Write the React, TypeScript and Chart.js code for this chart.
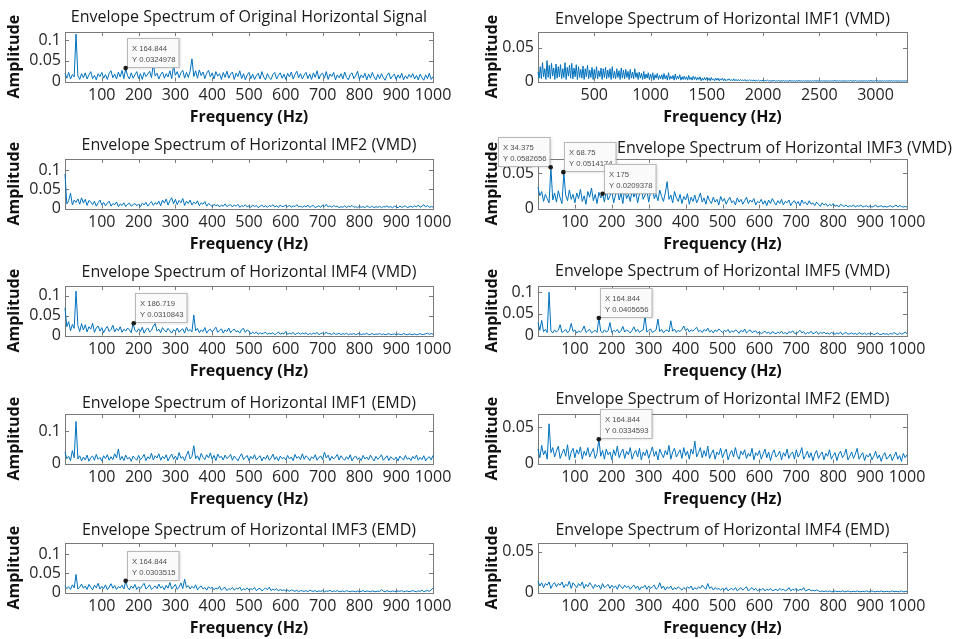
import React, { useEffect, useRef } from "react";
import { Chart, registerables } from "chart.js";

Chart.register(...registerables);

// ---------- axes / ticks ----------
const STEP_HZ = 5; // frequency resolution used for the 0-1000 Hz spectra
const STEP_HZ_WIDE = 10; // resolution used for the 0-3280 Hz spectrum
const X_TICKS_1K = [100, 200, 300, 400, 500, 600, 700, 800, 900, 1000];
const X_TICKS_WIDE = [500, 1000, 1500, 2000, 2500, 3000];
const Y_TICKS_A = [0, 0.05, 0.1];
const Y_TICKS_B = [0, 0.05];
const Y_TICKS_C = [0, 0.1];

const TITLES = [
  "Envelope Spectrum of Original Horizontal Signal",
  "Envelope Spectrum of Horizontal IMF1 (VMD)",
  "Envelope Spectrum of Horizontal IMF2 (VMD)",
  "Envelope Spectrum of Horizontal IMF3 (VMD)",
  "Envelope Spectrum of Horizontal IMF4 (VMD)",
  "Envelope Spectrum of Horizontal IMF5 (VMD)",
  "Envelope Spectrum of Horizontal IMF1 (EMD)",
  "Envelope Spectrum of Horizontal IMF2 (EMD)",
  "Envelope Spectrum of Horizontal IMF3 (EMD)",
  "Envelope Spectrum of Horizontal IMF4 (EMD)",
];

// ---------- amplitudes (units of 0.001) ----------
const ORIGINAL = [
  20, 8, 22, 6, 17, 11, 115, 14, 5, 19,
  9, 21, 6, 16, 24, 7, 15, 4, 19, 12,
  22, 8, 17, 5, 20, 26, 9, 18, 6, 23,
  11, 27, 7, 32, 14, 6, 21, 8, 16, 24,
  7, 19, 5, 22, 12, 18, 25, 9, 42, 13,
  20, 6, 17, 23, 8, 19, 11, 26, 7, 38,
  15, 24, 9, 21, 27, 8, 22, 10, 25, 55,
  12, 26, 8, 28, 14, 23, 7, 20, 27, 11,
  21, 6, 24, 13, 19, 5, 22, 10, 25, 8,
  18, 23, 5, 20, 12, 26, 7, 19, 4, 16,
  22, 7, 18, 5, 14, 20, 6, 24, 11, 4,
  19, 9, 5, 17, 22, 6, 15, 21, 8, 18,
  5, 20, 11, 23, 6, 17, 25, 9, 19, 6,
  16, 22, 7, 18, 5, 21, 10, 26, 6, 17,
  20, 8, 24, 5, 18, 12, 22, 4, 16, 9,
  19, 6, 23, 10, 4, 17, 21, 7, 14, 25,
  5, 16, 9, 20, 4, 18, 8, 22, 11, 4,
  17, 7, 19, 9, 3, 15, 21, 6, 13, 18,
  5, 16, 8, 20, 4, 14, 7, 17, 10, 19,
  6, 15, 4, 18, 9, 3, 16, 7, 20, 5,
  12,
];

const IMF1_VMD = [
  14, 5, 22, 4, 28, 7, 19, 3, 31, 6,
  24, 4, 27, 8, 20, 3, 26, 5, 22, 7,
  25, 4, 19, 6, 28, 3, 21, 8, 24, 5,
  27, 4, 20, 7, 25, 3, 22, 6, 18, 5,
  23, 3, 19, 7, 24, 4, 17, 6, 21, 3,
  18, 5, 22, 4, 16, 7, 20, 3, 19, 6,
  21, 4, 17, 6, 19, 3, 22, 5, 15, 4,
  19, 6, 16, 3, 20, 5, 17, 4, 18, 6,
  15, 3, 18, 5, 14, 4, 19, 6, 13, 3,
  14, 5, 12, 3, 15, 4, 11, 5, 13, 3,
  11, 4, 13, 2, 10, 5, 12, 3, 9, 4,
  10, 3, 12, 4, 9, 2, 13, 3, 8, 4,
  9, 2, 11, 3, 8, 4, 10, 2, 7, 3,
  8, 3, 7, 2, 9, 3, 6, 2, 8, 3,
  7, 2, 6, 3, 7, 1, 5, 2, 6, 2,
  6, 2, 5, 1, 6, 2, 4, 1, 5, 2,
  5, 1, 4, 2, 5, 1, 4, 1, 3, 2,
  4, 1, 3, 1, 4, 1, 3, 1, 3, 1,
  3, 1, 2.5, 1, 3, 0.5, 2, 1, 2.5, 1,
  2, 1, 2.5, 0.5, 2, 1, 2, 0.5, 1.5, 1,
  2, 0.5, 1.5, 1, 2, 0.5, 1.5, 0.5, 1, 1,
  1.5, 0.5, 1, 0.5, 1.5, 0.5, 1, 0.5, 1.5, 0.5,
  1, 0.5, 1, 0.5, 1.5, 0.5, 1, 0.5, 1, 0.5,
  1, 0.5, 1.5, 0.5, 1, 0.5, 1, 0.5, 1, 0.5,
  1, 0.5, 1, 0.5, 1, 0.5, 1.5, 0.5, 1, 0.5,
  1.5, 0.5, 1, 0.5, 1, 0.5, 1, 0.5, 1, 0.5,
  1, 0.5, 1, 0.5, 1.5, 0.5, 1, 0.5, 1, 0.5,
  1, 0.5, 1, 0.5, 1, 0.5, 1, 0.5, 1.5, 0.5,
  1, 0.5, 1.5, 0.5, 1, 0.5, 1, 0.5, 1, 0.5,
  1, 0.5, 1, 0.5, 1, 0.5, 1.5, 0.5, 1, 0.5,
  1.5, 0.5, 1, 0.5, 1, 0.5, 1, 0.5, 1, 0.5,
  1, 0.5, 1, 0.5, 1.5, 0.5, 1, 0.5, 1, 0.5,
  1, 0.5, 1, 0.5, 1, 0.5, 1, 0.5, 1,
];

const IMF2_VMD = [
  90, 12, 20, 40, 9, 22, 16, 25, 11, 28,
  14, 24, 8, 21, 17, 10, 19, 6, 15, 22,
  9, 16, 7, 14, 19, 6, 13, 10, 17, 5,
  12, 8, 15, 5, 11, 14, 6, 10, 13, 7,
  12, 5, 14, 9, 16, 6, 13, 18, 8, 15,
  11, 19, 7, 22, 14, 25, 9, 20, 28, 12,
  24, 10, 21, 15, 26, 8, 19, 13, 22, 9,
  17, 12, 20, 7, 15, 11, 18, 6, 13, 9,
  5, 11, 7, 10, 4, 9, 6, 12, 5, 8,
  10, 4, 9, 6, 11, 3, 8, 5, 10, 4,
  7, 3, 9, 5, 8, 2, 6, 9, 4, 7,
  3, 8, 5, 10, 4, 7, 3, 9, 5, 6,
  8, 4, 9, 3, 7, 5, 10, 4, 6, 3,
  7, 4, 9, 3, 6, 8, 2, 5, 7, 3,
  9, 5, 11, 4, 7, 3, 8, 5, 6, 2,
  5, 3, 7, 2, 6, 4, 8, 3, 5, 2,
  6, 3, 5, 2, 7, 4, 3, 6, 2, 5,
  3, 6, 2, 5, 4, 7, 3, 5, 2, 6,
  4, 2, 6, 3, 5, 7, 2, 4, 6, 3,
  7, 4, 9, 3, 6, 10, 4, 8, 3, 5,
  4,
];

const IMF3_VMD = [
  30, 18, 24, 10, 20, 14, 8, 58, 12, 22,
  9, 25, 15, 7, 51, 19, 11, 26, 13, 20,
  8, 22, 14, 27, 10, 18, 6, 24, 16, 29,
  11, 20, 7, 23, 15, 21, 9, 26, 12, 18,
  25, 8, 19, 28, 12, 22, 7, 30, 14, 20,
  10, 26, 16, 24, 8, 21, 29, 13, 19, 27,
  9, 23, 31, 14, 20, 11, 26, 17, 10, 22,
  38, 13, 19, 8, 24, 15, 10, 20, 7, 17,
  12, 21, 6, 16, 10, 19, 8, 14, 22, 9,
  15, 6, 18, 11, 7, 16, 9, 13, 5, 17,
  10, 14, 6, 12, 16, 8, 11, 5, 15, 9,
  13, 6, 11, 16, 7, 12, 9, 14, 5, 10,
  8, 13, 6, 11, 4, 12, 7, 14, 9, 5,
  11, 7, 13, 5, 10, 8, 12, 4, 9, 11,
  6, 10, 4, 12, 7, 9, 5, 11, 6, 8,
  4, 9, 6, 3, 8, 5, 7, 3, 6, 4,
  7, 3, 5, 2, 6, 4, 3, 5, 2, 4,
  3, 5, 2, 4, 3, 5, 2, 3, 4, 2,
  4, 2, 3, 5, 2, 3, 4, 2, 3, 2,
  3, 4, 2, 3, 5, 2, 4, 3, 2, 3,
  2,
];

const IMF4_VMD = [
  70, 22, 35, 12, 28, 18, 112, 25, 10, 30,
  14, 27, 9, 22, 16, 31, 8, 19, 24, 11,
  20, 7, 17, 23, 10, 15, 26, 9, 18, 12,
  22, 8, 16, 11, 19, 14, 7, 31, 13, 9,
  17, 10, 21, 6, 15, 19, 9, 13, 24, 30,
  11, 16, 7, 20, 13, 9, 18, 12, 6, 15,
  10, 19, 8, 14, 17, 6, 21, 11, 15, 9,
  52, 12, 18, 7, 14, 10, 20, 6, 13, 16,
  9, 15, 21, 8, 12, 17, 6, 14, 10, 19,
  7, 13, 16, 9, 12, 6, 15, 18, 8, 14,
  11, 4, 8, 5, 9, 3, 7, 4, 6, 8,
  3, 6, 4, 7, 2, 5, 9, 3, 6, 4,
  10, 3, 6, 4, 8, 2, 5, 7, 3, 6,
  4, 7, 2, 5, 3, 6, 4, 8, 2, 5,
  6, 3, 9, 4, 5, 2, 7, 3, 4, 6,
  2, 5, 3, 6, 2, 4, 3, 5, 2, 4,
  5, 2, 4, 3, 6, 2, 3, 5, 2, 4,
  3, 5, 2, 4, 2, 3, 5, 2, 3, 4,
  2, 4, 3, 2, 5, 3, 2, 4, 3, 2,
  4, 2, 3, 5, 2, 3, 4, 6, 3, 5,
  3,
];

const IMF5_VMD = [
  30, 12, 35, 9, 14, 7, 100, 11, 6, 13,
  8, 12, 25, 7, 10, 14, 6, 11, 28, 9,
  13, 6, 10, 8, 12, 22, 7, 11, 14, 6,
  9, 12, 7, 41, 10, 6, 13, 8, 11, 30,
  7, 12, 9, 14, 6, 11, 21, 8, 13, 10,
  6, 12, 20, 9, 14, 7, 11, 13, 45, 8,
  12, 15, 7, 10, 13, 38, 9, 14, 6, 11,
  13, 8, 34, 10, 15, 7, 12, 9, 14, 22,
  11, 16, 8, 13, 10, 15, 19, 9, 12, 7,
  14, 10, 17, 8, 12, 6, 13, 9, 15, 11,
  7, 12, 9, 14, 6, 11, 8, 13, 10, 5,
  12, 8, 15, 6, 10, 13, 7, 9, 11, 5,
  9, 4, 7, 10, 5, 8, 3, 9, 6, 4,
  8, 5, 10, 4, 7, 3, 9, 6, 11, 5,
  4, 8, 12, 6, 9, 3, 7, 5, 10, 4,
  6, 9, 3, 7, 5, 8, 4, 6, 3, 7,
  5, 3, 6, 4, 8, 2, 5, 7, 3, 4,
  6, 3, 5, 2, 7, 4, 3, 6, 2, 5,
  3, 5, 2, 4, 6, 3, 2, 5, 3, 4,
  2, 5, 3, 7, 4, 2, 6, 3, 5, 8,
  4,
];

const IMF1_EMD = [
  35, 15, 22, 9, 40, 18, 130, 14, 24, 8,
  20, 11, 26, 7, 18, 23, 10, 28, 13, 19,
  8, 24, 15, 27, 10, 21, 12, 30, 17, 45,
  11, 22, 9, 26, 14, 19, 7, 23, 16, 10,
  25, 12, 18, 28, 9, 21, 14, 32, 11, 24,
  17, 30, 10, 22, 15, 27, 8, 20, 29, 13,
  23, 11, 34, 16, 21, 9, 26, 38, 14, 22,
  55, 15, 24, 10, 31, 19, 12, 27, 17, 33,
  13, 25, 9, 29, 18, 22, 11, 26, 15, 20,
  28, 10, 23, 16, 8, 21, 30, 12, 19, 25,
  9, 22, 14, 27, 11, 18, 24, 8, 20, 13,
  26, 10, 17, 29, 12, 21, 8, 23, 15, 19,
  11, 25, 14, 20, 9, 28, 16, 22, 12, 30,
  13, 24, 18, 9, 21, 15, 27, 10, 19, 23,
  12, 35, 17, 26, 9, 22, 14, 20, 28, 11,
  24, 16, 10, 21, 13, 27, 8, 19, 23, 12,
  18, 9, 25, 14, 20, 11, 26, 16, 8, 22,
  13, 19, 27, 10, 17, 24, 9, 21, 15, 12,
  20, 8, 23, 16, 11, 25, 13, 18, 9, 22,
  14, 26, 10, 19, 12, 24, 8, 17, 21, 11,
  25,
];

const IMF2_EMD = [
  20, 8, 25, 12, 18, 6, 55, 15, 22, 9,
  17, 24, 7, 14, 20, 10, 26, 5, 16, 21,
  8, 19, 13, 23, 6, 17, 11, 22, 9, 15,
  21, 7, 14, 34, 10, 18, 6, 20, 12, 16,
  5, 19, 11, 24, 8, 15, 20, 7, 17, 12,
  22, 6, 14, 18, 9, 21, 5, 16, 11, 19,
  7, 15, 23, 10, 17, 5, 20, 13, 8, 18,
  12, 25, 6, 16, 21, 9, 14, 19, 7, 22,
  11, 17, 6, 20, 13, 31, 9, 15, 22, 8,
  18, 10, 24, 7, 14, 19, 6, 16, 12, 21,
  8, 15, 20, 5, 13, 18, 9, 22, 11, 6,
  17, 12, 19, 7, 14, 10, 21, 5, 15, 11,
  18, 6, 13, 20, 8, 16, 4, 14, 19, 9,
  12, 17, 5, 15, 10, 20, 7, 13, 16, 6,
  19, 9, 14, 22, 6, 11, 17, 8, 15, 4,
  13, 18, 7, 12, 16, 5, 14, 10, 19, 6,
  11, 15, 4, 13, 17, 8, 12, 20, 5, 10,
  16, 7, 13, 21, 6, 11, 15, 4, 12, 9,
  14, 5, 10, 17, 7, 12, 3, 11, 15, 6,
  9, 13, 4, 10, 16, 6, 11, 3, 14, 8,
  12,
];

const IMF3_EMD = [
  18, 10, 15, 8, 20, 12, 47, 9, 14, 22,
  11, 17, 8, 21, 13, 7, 19, 12, 24, 9,
  16, 10, 20, 7, 14, 23, 11, 18, 8, 15,
  12, 19, 9, 30, 13, 7, 17, 11, 21, 8,
  15, 10, 18, 24, 9, 14, 20, 8, 13, 17,
  10, 22, 12, 16, 7, 19, 11, 26, 9, 15,
  21, 8, 14, 25, 10, 35, 13, 18, 9, 16,
  11, 20, 7, 14, 17, 9, 13, 6, 15, 10,
  14, 7, 12, 9, 16, 6, 11, 13, 5, 10,
  8, 13, 6, 11, 9, 14, 5, 10, 7, 12,
  6, 10, 8, 13, 5, 9, 11, 4, 8, 12,
  7, 14, 5, 9, 6, 10, 4, 8, 5, 7,
  4, 6, 3, 7, 5, 3, 6, 2, 5, 4,
  3, 5, 2, 6, 4, 3, 5, 2, 4, 3,
  5, 2, 4, 3, 6, 2, 4, 3, 5, 2,
  3, 4, 2, 5, 3, 2, 4, 3, 2, 4,
  2, 3, 5, 2, 4, 3, 2, 4, 3, 2,
  4, 2, 8, 3, 2, 5, 3, 2, 4, 3,
  2, 4, 3, 5, 2, 3, 4, 2, 3, 5,
  3, 2, 4, 3, 6, 2, 4, 5, 3, 7,
  12,
];

const IMF4_EMD = [
  14, 8, 12, 6, 11, 9, 13, 5, 10, 12,
  7, 11, 9, 13, 6, 10, 8, 14, 5, 12,
  9, 6, 11, 8, 13, 5, 10, 7, 12, 9,
  5, 10, 7, 9, 4, 11, 6, 8, 10, 5,
  9, 6, 8, 4, 10, 7, 5, 9, 6, 8,
  4, 7, 9, 5, 8, 3, 7, 6, 9, 4,
  8, 5, 7, 9, 4, 6, 12, 5, 8, 3,
  7, 5, 8, 3, 6, 4, 7, 5, 3, 6,
  4, 7, 5, 8, 3, 6, 4, 7, 5, 9,
  6, 4, 11, 5, 7, 3, 6, 4, 5, 3,
  5, 3, 6, 2, 4, 5, 3, 6, 2, 4,
  6, 3, 5, 7, 2, 4, 6, 3, 5, 2,
  4, 3, 5, 2, 4, 3, 5, 2, 3, 4,
  2, 5, 3, 4, 2, 3, 6, 2, 4, 3,
  5, 2, 4, 3, 6, 2, 3, 4, 2, 3,
  2, 3, 2, 1, 2, 1, 2, 1, 2, 1,
  1, 2, 1, 1.5, 1, 2, 1, 1, 2, 1,
  1, 1.5, 1, 2, 1, 1, 1.5, 1, 2, 1,
  1, 2, 1, 1, 1.5, 1, 2, 1, 1, 1.5,
  1, 1, 2, 1, 1.5, 1, 1, 2, 1, 1,
  1.5,
];

// ---------- data tips ----------
const TIPS_ORIGINAL = [{ x: 164.844, y: 0.0324978, side: 1 }];
const TIPS_IMF3_VMD = [
  { x: 34.375, y: 0.0582656, side: -1 },
  { x: 68.75, y: 0.0514174, side: 1 },
  { x: 175, y: 0.0209378, side: 1 },
];
const TIPS_IMF4_VMD = [{ x: 186.719, y: 0.0310843, side: 1 }];
const TIPS_IMF5_VMD = [{ x: 164.844, y: 0.0405656, side: 1 }];
const TIPS_IMF2_EMD = [{ x: 164.844, y: 0.0334593, side: 1 }];
const TIPS_IMF3_EMD = [{ x: 164.844, y: 0.0303515, side: 1 }];

// ---------- panel table ----------
const ROW_TOPS = [0, 127, 254, 382, 511];
const PANELS = [
  { row: 0, col: 0, title: TITLES[0], values: ORIGINAL, step: STEP_HZ, xMax: 1000, xTicks: X_TICKS_1K, yMax: 0.12, yTicks: Y_TICKS_A, tips: TIPS_ORIGINAL, titleGap: 15, titleDx: 0 },
  { row: 0, col: 1, title: TITLES[1], values: IMF1_VMD, step: STEP_HZ_WIDE, xMax: 3280, xTicks: X_TICKS_WIDE, yMax: 0.0735, yTicks: Y_TICKS_B, tips: [], titleGap: 13, titleDx: 0 },
  { row: 1, col: 0, title: TITLES[2], values: IMF2_VMD, step: STEP_HZ, xMax: 1000, xTicks: X_TICKS_1K, yMax: 0.129, yTicks: Y_TICKS_A, tips: [], titleGap: 14, titleDx: 0 },
  { row: 1, col: 1, title: TITLES[3], values: IMF3_VMD, step: STEP_HZ, xMax: 1000, xTicks: X_TICKS_1K, yMax: 0.07, yTicks: Y_TICKS_B, tips: TIPS_IMF3_VMD, titleGap: 11, titleDx: 62 },
  { row: 2, col: 0, title: TITLES[4], values: IMF4_VMD, step: STEP_HZ, xMax: 1000, xTicks: X_TICKS_1K, yMax: 0.125, yTicks: Y_TICKS_A, tips: TIPS_IMF4_VMD, titleGap: 14, titleDx: 0 },
  { row: 2, col: 1, title: TITLES[5], values: IMF5_VMD, step: STEP_HZ, xMax: 1000, xTicks: X_TICKS_1K, yMax: 0.1145, yTicks: Y_TICKS_A, tips: TIPS_IMF5_VMD, titleGap: 15, titleDx: 0 },
  { row: 3, col: 0, title: TITLES[6], values: IMF1_EMD, step: STEP_HZ, xMax: 1000, xTicks: X_TICKS_1K, yMax: 0.153, yTicks: Y_TICKS_C, tips: [], titleGap: 11, titleDx: 0 },
  { row: 3, col: 1, title: TITLES[7], values: IMF2_EMD, step: STEP_HZ, xMax: 1000, xTicks: X_TICKS_1K, yMax: 0.0685, yTicks: Y_TICKS_B, tips: TIPS_IMF2_EMD, titleGap: 15, titleDx: 0 },
  { row: 4, col: 0, title: TITLES[8], values: IMF3_EMD, step: STEP_HZ, xMax: 1000, xTicks: X_TICKS_1K, yMax: 0.129, yTicks: Y_TICKS_A, tips: TIPS_IMF3_EMD, titleGap: 13, titleDx: 0 },
  { row: 4, col: 1, title: TITLES[9], values: IMF4_EMD, step: STEP_HZ, xMax: 1000, xTicks: X_TICKS_1K, yMax: 0.061, yTicks: Y_TICKS_B, tips: [], titleGap: 13, titleDx: 0 },
];

const COLS = [
  { left: 0, width: 480, yAxisW: 65, rightPad: 47, yTitlePad: 4.5 },
  { left: 480, width: 479, yAxisW: 58, rightPad: 52, yTitlePad: 3 },
];
const CANVAS_H = 128;
const LINE_COLOR = "#0072BD";
const AXIS_COLOR = "#7a7a7a";
const FONT = '"Open Sans", sans-serif';

const decorPlugin = {
  id: "panelDecor",
  beforeDatasetsDraw(chart: any, _args: any, opts: any) {
    const { ctx, chartArea: a, scales } = chart;
    const xs = scales.x;
    const ys = scales.y;
    ctx.save();
    ctx.strokeStyle = AXIS_COLOR;
    ctx.lineWidth = 1;
    ctx.beginPath();
    for (const v of opts.xTicks) {
      const px = Math.round(xs.getPixelForValue(v)) + 0.5;
      ctx.moveTo(px, a.bottom);
      ctx.lineTo(px, a.bottom - 4);
      ctx.moveTo(px, a.top);
      ctx.lineTo(px, a.top + 4);
    }
    for (const v of opts.yTicks) {
      const py = Math.round(ys.getPixelForValue(v)) + 0.5;
      ctx.moveTo(a.left, py);
      ctx.lineTo(a.left + 4, py);
      ctx.moveTo(a.right, py);
      ctx.lineTo(a.right - 4, py);
    }
    ctx.stroke();
    ctx.strokeRect(
      Math.round(a.left) + 0.5,
      Math.round(a.top) + 0.5,
      Math.round(a.right - a.left),
      Math.round(a.bottom - a.top)
    );
    ctx.restore();
  },
  afterDraw(chart: any, _args: any, opts: any) {
    const { ctx, chartArea: a, scales } = chart;
    const xs = scales.x;
    const ys = scales.y;
    ctx.save();
    // title
    ctx.fillStyle = "#1a1a1a";
    ctx.font = `16px ${FONT}`;
    ctx.textAlign = "center";
    ctx.textBaseline = "middle";
    ctx.fillText(opts.title, (a.left + a.right) / 2 + opts.titleDx, a.top - opts.titleGap);
    // data tips
    ctx.font = '7.7px "Liberation Sans", sans-serif';
    for (const t of opts.tips) {
      const px = xs.getPixelForValue(t.x);
      const py = ys.getPixelForValue(t.y);
      const l1 = "X " + t.x;
      const l2 = "Y " + t.y;
      const w = Math.max(ctx.measureText(l1).width, ctx.measureText(l2).width) + 8;
      const h = 29;
      const bx = Math.round(t.side > 0 ? px + 1 : px - 1 - w);
      const by = Math.round(py - 1 - h);
      ctx.shadowColor = "rgba(0,0,0,0.18)";
      ctx.shadowBlur = 3;
      ctx.shadowOffsetX = 1;
      ctx.shadowOffsetY = 1;
      ctx.fillStyle = "#fafafa";
      ctx.fillRect(bx, by, w, h);
      ctx.shadowColor = "transparent";
      ctx.shadowBlur = 0;
      ctx.shadowOffsetX = 0;
      ctx.shadowOffsetY = 0;
      ctx.strokeStyle = "#b8b8b8";
      ctx.strokeRect(bx + 0.5, by + 0.5, w, h);
      ctx.fillStyle = "#505050";
      ctx.textAlign = "left";
      ctx.textBaseline = "middle";
      ctx.fillText(l1, bx + 5, by + 10.5);
      ctx.fillText(l2, bx + 5, by + 21.5);
      ctx.fillStyle = "#1a1a1a";
      ctx.beginPath();
      ctx.arc(px, py, 2.3, 0, Math.PI * 2);
      ctx.fill();
    }
    ctx.restore();
  },
};

function Panel({ p }: { p: any }) {
  const ref = useRef<HTMLCanvasElement | null>(null);
  const col = COLS[p.col];
  useEffect(() => {
    if (!ref.current) return;
    const data = p.values.map((v: number, i: number) => ({ x: i * p.step, y: v / 1000 }));
    const chart = new Chart(ref.current, {
      type: "line",
      data: {
        datasets: [
          {
            data,
            borderColor: LINE_COLOR,
            borderWidth: 1,
            pointRadius: 0,
            tension: 0,
            fill: false,
            clip: 2,
          },
        ],
      },
      options: {
        animation: false,
        responsive: false,
        devicePixelRatio: 1,
        layout: { padding: { top: 32, right: col.rightPad, left: 0, bottom: 0 } },
        plugins: {
          legend: { display: false },
          tooltip: { enabled: false },
          title: { display: false },
          panelDecor: {
            title: p.title,
            titleGap: p.titleGap,
            titleDx: p.titleDx,
            xTicks: p.xTicks,
            yTicks: p.yTicks,
            tips: p.tips,
          },
        } as any,
        scales: {
          x: {
            type: "linear",
            min: 0,
            max: p.xMax,
            afterBuildTicks: (s: any) => {
              s.ticks = p.xTicks.map((v: number) => ({ value: v }));
            },
            afterFit: (s: any) => {
              s.height = 46.5;
            },
            grid: { display: false, drawTicks: false },
            border: { display: false },
            ticks: {
              autoSkip: false,
              maxRotation: 0,
              padding: 4,
              color: "#262626",
              font: { family: FONT, size: 16 },
              callback: (v: any) => String(v),
            },
            title: {
              display: true,
              text: "Frequency (Hz)",
              color: "#111",
              font: { family: FONT, size: 16, weight: "bold" },
              padding: { top: 0, bottom: 1 },
            },
          },
          y: {
            type: "linear",
            min: 0,
            max: p.yMax,
            afterBuildTicks: (s: any) => {
              s.ticks = p.yTicks.map((v: number) => ({ value: v }));
            },
            afterFit: (s: any) => {
              s.width = col.yAxisW;
            },
            grid: { display: false, drawTicks: false },
            border: { display: false },
            ticks: {
              padding: 4,
              color: "#262626",
              font: { family: FONT, size: 16 },
              callback: (v: any) => String(v),
            },
            title: {
              display: true,
              text: "Amplitude",
              color: "#111",
              font: { family: FONT, size: 16, weight: "bold" },
              padding: { top: col.yTitlePad, bottom: 0 },
            },
          },
        },
      },
      plugins: [decorPlugin as any],
    });
    return () => chart.destroy();
  }, []);
  return (
    <canvas
      ref={ref}
      width={col.width}
      height={CANVAS_H}
      style={{
        position: "absolute",
        left: col.left,
        top: ROW_TOPS[p.row],
        width: col.width,
        height: CANVAS_H,
      }}
    />
  );
}

export default function App() {
  return (
    <div
      style={{
        position: "absolute",
        left: 0,
        top: 0,
        width: 959,
        height: 639,
        background: "#ffffff",
        overflow: "hidden",
      }}
    >
      {PANELS.map((p, i) => (
        <Panel key={i} p={p} />
      ))}
    </div>
  );
}
